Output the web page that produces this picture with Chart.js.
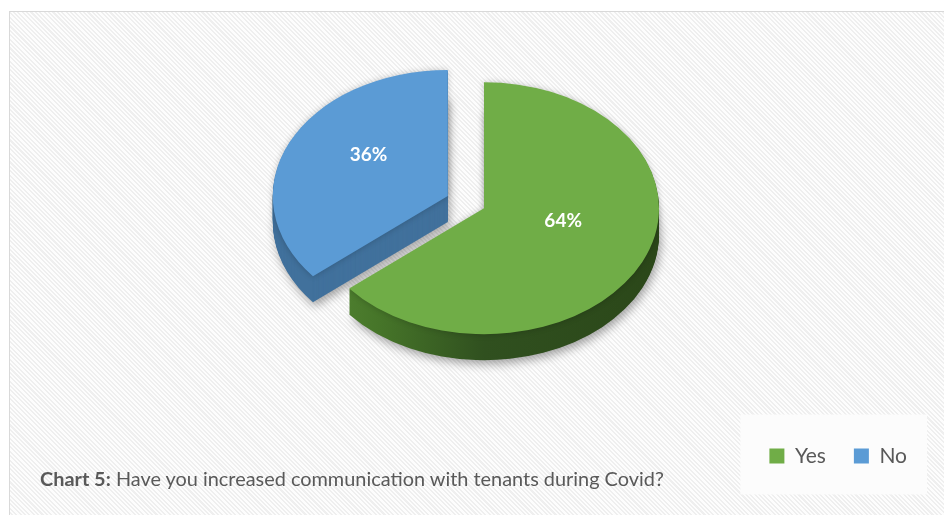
<!DOCTYPE html>
<html>
<head>
<meta charset="utf-8">
<script src="https://cdn.jsdelivr.net/npm/chart.js@4.4.1/dist/chart.umd.min.js"></script>
<style>
  html, body { margin: 0; padding: 0; background: #ffffff; width: 944px; height: 515px; overflow: hidden; }
  #frame {
    position: absolute; left: 9px; top: 11px; width: 935px; height: 504px;
    border-top: 1px solid #d9d9d9; border-left: 1px solid #d9d9d9;
    background: repeating-linear-gradient(45deg, #fdfdfd 0px, #fdfdfd 1.6px, #efefef 1.6px, #efefef 3.1px);
  }
  #wrap { position: absolute; left: 0; top: -7px; width: 944px; height: 522px; }
  #caption {
    position: absolute; left: 40px; top: 468px; white-space: nowrap;
    font-family: Lato, "Open Sans", sans-serif; font-size: 19.9px; line-height: 20px; color: #595959;
  }
  #caption b { font-weight: 700; }
</style>
</head>
<body>
<div id="frame"></div>
<div id="wrap"><canvas id="chart" width="944" height="522"></canvas></div>
<div id="caption"><b>Chart 5:</b> Have you increased communication with tenants during Covid?</div>
<script>
// Survey answers
const categories = ['Yes', 'No'];
const shares = [64, 36];
const sliceColors = ['#70ad47', '#5b9bd5'];

// 3D look of the pie
const TILT = 0.72;          // vertical squash of the top face
const DEPTH = 26;           // thickness of the pie in pixels
const EXPLODE = [0, 40];    // how far each slice is pulled out
const LABEL_LIFT = 14;      // labels sit a little above the slice centroid

function sideFill(ctx, index, cx, r) {
  if (index === 0) {
    const g = ctx.createLinearGradient(cx - r, 0, cx + r, 0);
    g.addColorStop(0, '#558734');
    g.addColorStop(0.2, '#467529');
    g.addColorStop(0.5, '#30501f');
    g.addColorStop(1, '#2b4719');
    return g;
  }
  return '#41719c';
}

function drawArcWith(ctx, arc, fill) {
  const saved = arc.options;
  arc.options = Object.assign({}, saved, { backgroundColor: fill, borderWidth: 0 });
  arc.draw(ctx);
  arc.options = saved;
}

const pie3d = {
  id: 'pie3d',
  beforeDraw(chart) {
    // light panel behind the legend
    const lg = chart.legend;
    if (!lg || !lg.legendHitBoxes || !lg.legendHitBoxes.length) return;
    const hb = lg.legendHitBoxes;
    const first = hb[0], last = hb[hb.length - 1];
    const ctx = chart.ctx;
    ctx.save();
    ctx.fillStyle = '#fcfcfc';
    const left = first.left - 29;
    const right = last.left + last.width + 20;
    const top = first.top - 31;
    ctx.fillRect(left, top, right - left, 80);
    ctx.restore();
  },
  beforeDatasetsDraw(chart) {
    const ctx = chart.ctx;
    const arcs = chart.getDatasetMeta(0).data;
    if (!arcs.length) return false;
    const cx = arcs[0].x, cy = arcs[0].y, r = arcs[0].outerRadius;
    const mid = a => (a.startAngle + a.endAngle) / 2;

    ctx.save();
    ctx.translate(0, cy);
    ctx.scale(1, TILT);
    ctx.translate(0, -cy);

    // side walls: stacked copies shifted downwards
    for (let d = DEPTH; d >= 1; d--) {
      arcs.forEach((arc, i) => {
        ctx.save();
        const m = mid(arc);
        ctx.translate(Math.cos(m) * EXPLODE[i], Math.sin(m) * EXPLODE[i] + d / TILT);
        if (d === DEPTH) {
          ctx.shadowColor = 'rgba(0,0,0,0.35)';
          ctx.shadowBlur = 10;
          ctx.shadowOffsetX = 2;
          ctx.shadowOffsetY = 4;
        }
        drawArcWith(ctx, arc, sideFill(ctx, i, cx, r));
        ctx.restore();
      });
    }

    // top faces
    arcs.forEach((arc, i) => {
      ctx.save();
      const m = mid(arc);
      ctx.translate(Math.cos(m) * EXPLODE[i], Math.sin(m) * EXPLODE[i]);
      ctx.shadowColor = 'rgba(0,0,0,0.22)';
      ctx.shadowBlur = 6;
      drawArcWith(ctx, arc, arc.options.backgroundColor);
      ctx.restore();
    });
    ctx.restore();

    // percentage labels
    const total = shares.reduce((s, v) => s + v, 0);
    ctx.save();
    ctx.font = 'bold 19px Lato, "Open Sans", sans-serif';
    ctx.fillStyle = '#ffffff';
    ctx.textAlign = 'center';
    ctx.textBaseline = 'middle';
    arcs.forEach((arc, i) => {
      const p = arc.tooltipPosition();
      const m = mid(arc);
      const x = p.x + Math.cos(m) * EXPLODE[i];
      const yFlat = p.y + Math.sin(m) * EXPLODE[i];
      const y = cy + (yFlat - cy) * TILT - LABEL_LIFT;
      ctx.fillText(Math.round(shares[i] / total * 100) + '%', x, y);
    });
    ctx.restore();
    return false;
  }
};

new Chart(document.getElementById('chart'), {
  type: 'pie',
  data: {
    labels: categories,
    datasets: [{
      data: shares,
      backgroundColor: sliceColors,
      borderWidth: 0,
      radius: 175,
      clip: false
    }]
  },
  options: {
    responsive: false,
    animation: false,
    devicePixelRatio: 1,
    layout: { padding: { left: 33, right: 9, top: 6, bottom: 38.5 } },
    plugins: {
      tooltip: { enabled: false },
      legend: {
        position: 'bottom',
        align: 'end',
        labels: {
          boxWidth: 15,
          boxHeight: 15,
          padding: 28,
          color: '#595959',
          font: { family: 'Lato, "Open Sans", sans-serif', size: 21 }
        }
      }
    }
  },
  plugins: [pie3d]
});
</script>
</body>
</html>
